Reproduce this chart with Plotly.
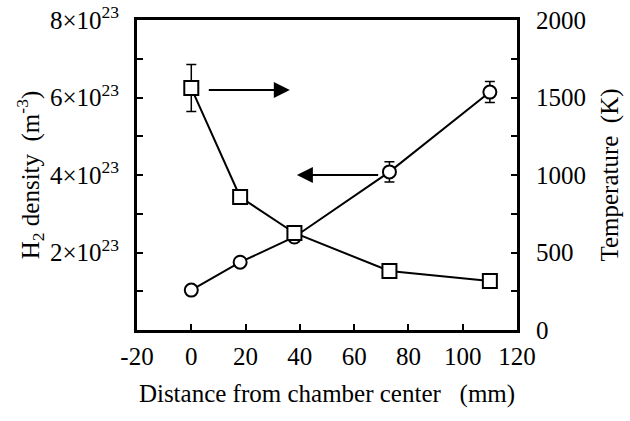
import plotly.graph_objects as go

# Data
dist_h2 = [0, 18, 38, 73, 110]
h2_density = [1.03e23, 1.75e23, 2.40e23, 4.08e23, 6.14e23]
h2_err = [0.0, 0.0, 0.05e23, 0.26e23, 0.27e23]

dist_temp = [0, 18, 38, 73, 110]
temperature = [1561, 858, 626, 381, 316]
temp_err = [152, 20, 15, 0, 0]

left_tickvals = [2e23, 4e23, 6e23, 8e23]
left_ticktext = ["2×10<sup>23</sup>", "4×10<sup>23</sup>", "6×10<sup>23</sup>", "8×10<sup>23</sup>"]
x_tickvals = [-20, 0, 20, 40, 60, 80, 100, 120]
x_ticktext = ["-20", "0", "20", "40", "60", "80", "100", "120"]
right_tickvals = [0, 500, 1000, 1500, 2000]

FONT = "Liberation Serif"
FS = 25

fig = go.Figure()
fig.add_trace(go.Scatter(
    x=dist_h2, y=h2_density, mode="lines+markers",
    line=dict(color="black", width=2),
    marker=dict(symbol="circle", size=13, color="white", line=dict(color="black", width=2)),
    error_y=dict(type="data", array=h2_err, visible=True, color="black", thickness=1.5, width=5),
    yaxis="y", showlegend=False))
fig.add_trace(go.Scatter(
    x=dist_temp, y=temperature, mode="lines+markers",
    line=dict(color="black", width=2),
    marker=dict(symbol="square", size=14, color="white", line=dict(color="black", width=2)),
    error_y=dict(type="data", array=temp_err, visible=True, color="black", thickness=1.5, width=5),
    yaxis="y2", showlegend=False))

fig.update_layout(
    width=630, height=421,
    margin=dict(l=137, r=113, t=20, b=91),
    paper_bgcolor="white", plot_bgcolor="white",
    font=dict(family=FONT, size=FS, color="black"),
    xaxis=dict(range=[-20, 120], tickvals=x_tickvals, ticktext=x_ticktext,
               ticks="inside", ticklen=6, automargin=False,
               tickwidth=1.5, tickcolor="black", showline=True, linewidth=3,
               linecolor="black", mirror=True, showgrid=False, zeroline=False,
               ticklabelstandoff=2, tickfont=dict(size=FS),
               title=dict(text="Distance from chamber center   (mm)", standoff=16,
                          font=dict(size=FS))),
    yaxis=dict(range=[0, 8e23], tickvals=left_tickvals, ticktext=left_ticktext,
               ticks="inside", ticklen=6, tickwidth=1.5, tickcolor="black",
               automargin=False,
               minor=dict(tickvals=[1e23, 3e23, 5e23, 7e23], ticks="inside", ticklen=6,
                          tickwidth=1.5, tickcolor="black"),
               showline=True, linewidth=3, linecolor="black", showgrid=False,
               zeroline=False, ticklabelstandoff=10, tickfont=dict(size=FS),
               title=dict(text="H<sub>2</sub> density  (m<sup>-3</sup>)", standoff=4,
                          font=dict(size=FS))),
    yaxis2=dict(range=[0, 2000], tickvals=right_tickvals,
                overlaying="y", side="right", automargin=False,
                ticks="inside", ticklen=6, tickwidth=1.5, tickcolor="black",
                minor=dict(tickvals=[250, 750, 1250, 1750], ticks="inside", ticklen=6,
                           tickwidth=1.5, tickcolor="black"),
                showline=True, linewidth=3, linecolor="black", showgrid=False,
                zeroline=False, ticklabelstandoff=11, tickfont=dict(size=FS),
                title=dict(text="Temperature  (K)", standoff=16, font=dict(size=FS))),
)

# Arrows indicating which axis each series belongs to
fig.add_annotation(x=36.3, y=1548, xref="x", yref="y2", ax=5.9, ay=1548,
                   axref="x", ayref="y2", text="", showarrow=True,
                   arrowhead=2, arrowsize=1.6, arrowwidth=2, arrowcolor="black")
fig.add_annotation(x=38.9, y=4.0e23, xref="x", yref="y", ax=69.4, ay=4.0e23,
                   axref="x", ayref="y", text="", showarrow=True,
                   arrowhead=2, arrowsize=1.6, arrowwidth=2, arrowcolor="black")

fig.write_html("out.html")
